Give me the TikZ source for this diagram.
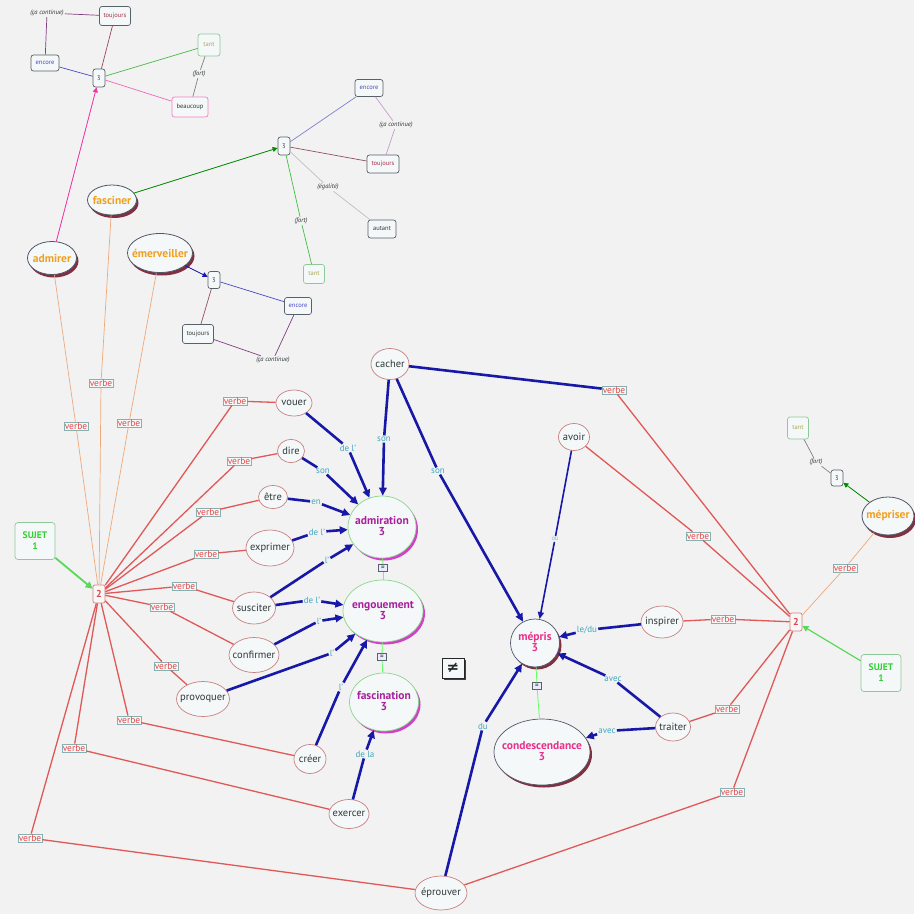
\documentclass[tikz,border=0pt]{standalone}
\usepackage{fontspec}
\setmainfont{PT Sans}
\newfontfamily\djv{DejaVu Sans}
\usetikzlibrary{shapes.geometric,arrows.meta,shadows}
\definecolor{bg}{HTML}{F2F2F2}
\definecolor{nf}{HTML}{F5F8F9}
\definecolor{vbd}{HTML}{C98080}
\definecolor{txc}{HTML}{303838}
\definecolor{cgr}{HTML}{88D888}
\definecolor{cmag}{HTML}{A8209C}
\definecolor{cshad}{HTML}{D040C8}
\definecolor{cpink}{HTML}{E8308C}
\definecolor{cdark}{HTML}{803040}
\definecolor{ovd}{HTML}{505868}
\definecolor{corange}{HTML}{F0A020}
\definecolor{tbd}{HTML}{586068}
\definecolor{vlb}{HTML}{88B0B0}
\definecolor{vred}{HTML}{E04848}
\definecolor{redl}{HTML}{E05858}
\definecolor{orl}{HTML}{F0A878}
\definecolor{navy}{HTML}{1818A8}
\definecolor{bltx}{HTML}{40A8C0}
\definecolor{sgreen}{HTML}{30D030}
\definecolor{enc}{HTML}{4848C0}
\definecolor{tou}{HTML}{A03048}
\definecolor{tan}{HTML}{A8A858}
\definecolor{tanb}{HTML}{90C898}
\newcommand\zb[1]{\makebox[0pt]{#1}}
\newcommand\twol[2]{\makebox[0pt]{\begin{tabular}{@{}c@{}}#1\\[-2pt]#2\end{tabular}}}
\tikzset{
  sz/.style 2 args={minimum width=#1pt, minimum height=#2pt},
  vb/.style={ellipse, draw=vbd, fill=nf, line width=0.7pt, text=txc, font=\fontsize{10.5}{12}\selectfont, inner sep=0pt},
  cp/.style={ellipse, draw=cgr, fill=nf, line width=0.7pt, text=cmag, font=\bfseries\fontsize{11.5}{13}\selectfont, inner sep=0pt, drop shadow={shadow xshift=2pt, shadow yshift=-2.5pt, fill=cshad, opacity=1}},
  mp/.style={ellipse, draw=ovd, fill=nf, line width=0.7pt, text=cpink, font=\bfseries\fontsize{11.5}{13}\selectfont, inner sep=0pt, drop shadow={shadow xshift=2pt, shadow yshift=-2.5pt, fill=cdark, opacity=1}},
  ov/.style={ellipse, draw=ovd, fill=nf, line width=0.8pt, text=corange, font=\bfseries\fontsize{11.5}{13}\selectfont, inner sep=0pt, drop shadow={shadow xshift=2pt, shadow yshift=-3pt, fill=cdark, opacity=1}},
  tb/.style={rectangle, rounded corners=2.5pt, draw=tbd, fill=nf, line width=0.7pt, text=txc, font=\fontsize{6.5}{8}\selectfont, inner sep=0pt},
  itx/.style={font=\itshape\fontsize{6.5}{8}\selectfont, text=txc, inner sep=1pt},
  vl/.style={rectangle, draw=vlb, fill=nf, line width=0.5pt, text=vred, font=\fontsize{9.5}{11}\selectfont, inner sep=0.8pt},
  bl/.style={text=bltx, font=\fontsize{9}{10}\selectfont, inner sep=1pt},
  twobox/.style={rectangle, rounded corners=2pt, draw=redl!80, fill=nf, line width=0.7pt, text=vred, font=\bfseries\fontsize{10}{12}\selectfont, inner sep=0pt, sz={12}{18}},
  sujet/.style={rectangle, rounded corners=3pt, draw=tanb, fill=nf, line width=0.7pt, text=sgreen, font=\bfseries\fontsize{9.5}{11}\selectfont, align=center, inner sep=0pt, sz={40}{37}},
  eqbox/.style={rectangle, draw=tbd, fill=blue!8, line width=0.5pt, font=\fontsize{7}{7}\selectfont, inner sep=0pt, sz={9}{7}},
  rl/.style={draw=redl, line width=1.3pt},
  ol/.style={draw=orl, line width=0.7pt},
  nv/.style={draw=navy, line width=2.6pt},
  na/.style={draw=navy, line width=2.6pt, -{Triangle[length=8pt,width=7.5pt]}},
  gl/.style={draw=green!60, line width=0.8pt},
  sa/.style={line width=0.8pt, -{Triangle[length=5pt,width=5pt]}},
  cl/.style={line width=0.7pt}
}
\begin{document}
\begin{tikzpicture}[x=1pt,y=-1pt]
\fill[bg] (0,0) rectangle (914,914);
\useasboundingbox (0,0) rectangle (914,914);

% ---------- verb ellipses ----------
\node[vb, sz={36}{26}] (vouer) at (294,403) {\zb{vouer}};
\node[vb, sz={27}{23}] (dire) at (291,451) {\zb{dire}};
\node[vb, sz={29}{23}] (etre) at (273,497) {\zb{être}};
\node[vb, sz={48}{36}] (exprimer) at (270,548) {\zb{exprimer}};
\node[vb, sz={43}{32}] (susciter) at (254,608) {\zb{susciter}};
\node[vb, sz={50}{35}] (confirmer) at (254,655) {\zb{confirmer}};
\node[vb, sz={53}{35}] (provoquer) at (203,699) {\zb{provoquer}};
\node[vb, sz={32}{29}] (creer) at (310,759) {\zb{créer}};
\node[vb, sz={40}{29}] (exercer) at (349,814) {\zb{exercer}};
\node[vb, sz={52}{34}] (eprouver) at (441,893) {\zb{éprouver}};
\node[vb, sz={38}{31}] (cacher) at (390,364) {\zb{cacher}};
\node[vb, sz={31}{27}] (avoir) at (574,437) {\zb{avoir}};
\node[vb, sz={42}{32}] (inspirer) at (662,622) {\zb{inspirer}};
\node[vb, sz={35}{28}] (traiter) at (673,727) {\zb{traiter}};

% ---------- concepts ----------
\node[cp, sz={68}{62}] (admiration) at (382,527) {\twol{admiration}{3}};
\node[cp, sz={80}{62}] (engouement) at (383,611) {\twol{engouement}{3}};
\node[cp, sz={69}{58}] (fascination) at (384,702) {\twol{fascination}{3}};
\node[mp, sz={49}{48}] (mepris) at (535,643) {\twol{mépris}{3}};
\node[mp, sz={96}{66}] (condes) at (542,752) {\twol{condescendance}{3}};

% ---------- orange verbs ----------
\node[ov, sz={49}{30}] (fasciner) at (112,200) {\zb{fasciner}};
\node[ov, sz={49}{33}] (admirer) at (52,258) {\zb{admirer}};
\node[ov, sz={65}{39}] (emerveiller) at (160,253) {\zb{émerveiller}};
\node[ov, sz={52}{38}] (mepriser) at (888,516) {\zb{mépriser}};

% ---------- hubs ----------
\node[twobox] (twoL) at (99,594) {2};
\node[twobox] (twoR) at (796,622) {2};
\node[sujet] (sujL) at (35,541) {SUJET\\1};
\node[sujet] (sujR) at (881,673) {SUJET\\1};

% ---------- top-left cluster ----------
\node[itx] (tlCa) at (47,13) {(ça continue)};
\node[tb, sz={31}{19}, text=tou] (tlTou) at (115,16) {toujours};
\node[tb, sz={28}{16}, text=enc] (tlEnc) at (45,63) {encore};
\node[tb, sz={12}{18}] (tl3) at (99,78) {3};
\node[tb, sz={22}{22}, draw=tanb, text=tan] (tlTant) at (209,45) {tant};
\node[itx] (tlFort) at (199,74) {(fort)};
\node[tb, sz={36}{20}, draw=magenta!50] (tlBeau) at (190,107) {beaucoup};

% ---------- top-middle cluster ----------
\node[tb, sz={28}{17}, text=enc] (tmEnc) at (369,88) {encore};
\node[itx] (tmCa) at (396,125) {(ça continue)};
\node[tb, sz={32}{18}, text=tou] (tmTou) at (383,164) {toujours};
\node[tb, sz={12}{18}] (tm3) at (284,146) {3};
\node[itx] (tmEg) at (328,187) {(égalité)};
\node[tb, sz={28}{18}] (tmAut) at (382,229) {autant};
\node[itx] (tmFort) at (301,221) {(fort)};
\node[tb, sz={21}{19}, draw=tanb, text=tan] (tmTant) at (314,274) {tant};

% ---------- emerveiller cluster ----------
\node[tb, sz={12}{17}] (em3) at (214,280) {3};
\node[tb, sz={27}{17}, text=enc] (emEnc) at (298,306) {encore};
\node[tb, sz={31}{19}] (emTou) at (198,334) {toujours};
\node[itx] (emCa) at (273,360) {(ça continue)};

% ---------- right-top cluster ----------
\node[tb, sz={21}{22}, draw=tanb, text=tan] (rTant) at (798,428) {tant};
\node[itx] (rFort) at (816,462) {(fort)};
\node[tb, sz={12}{16}] (r3) at (837,478) {3};

% ---------- verbe labels ----------
\node[vl] (lvA) at (76,426) {verbe};
\node[vl] (lvF) at (101,383) {verbe};
\node[vl] (lvE) at (129,423) {verbe};
\node[vl] (lv1) at (235,401) {verbe};
\node[vl] (lv2) at (239,461) {verbe};
\node[vl] (lv3) at (208,512) {verbe};
\node[vl] (lv4) at (206,554) {verbe};
\node[vl] (lv5) at (184,586) {verbe};
\node[vl] (lv6) at (162,607) {verbe};
\node[vl] (lv7) at (166,666) {verbe};
\node[vl] (lv8) at (129,720) {verbe};
\node[vl] (lv9) at (74,748) {verbe};
\node[vl] (lv10) at (30,838) {verbe};
\node[vl] (rv1) at (614,390) {verbe};
\node[vl] (rv2) at (698,536) {verbe};
\node[vl] (rv3) at (723,619) {verbe};
\node[vl] (rv4) at (727,709) {verbe};
\node[vl] (rv5) at (732,792) {verbe};
\node[vl] (rv6) at (845,568) {verbe};

% ---------- blue labels ----------
\node[bl] (b1) at (348,448) {de l'};
\node[bl] (b2) at (323,471) {son};
\node[bl] (b3) at (316,502) {en};
\node[bl] (b4) at (317,532) {de l'};
\node[bl] (b5) at (327,560) {l'};
\node[bl] (b6) at (384,439) {son};
\node[bl] (b7) at (312,600) {de l'};
\node[bl] (b8) at (319,621) {l'};
\node[bl] (b9) at (332,653) {l'};
\node[bl] (b10) at (341,687) {l'};
\node[bl] (b11) at (365,754) {de la};
\node[bl] (b12) at (438,471) {son};
\node[bl, font=\fontsize{6.5}{7}\selectfont, text=bltx!70] (b13) at (555,539) {ou};
\node[bl] (b14) at (587,630) {le/du};
\node[bl] (b15) at (613,679) {avec};
\node[bl] (b16) at (607,731) {avec};
\node[bl] (b17) at (483,726) {du};

% ---------- equal boxes ----------
\node[eqbox] (eq1) at (383,568) {=};
\node[eqbox] (eq2) at (382,657) {=};
\node[eqbox] (eq3) at (537,686) {=};
\node[rectangle, draw=black!85, fill=nf, line width=0.9pt, inner sep=0pt, sz={22}{20}, font=\djv\bfseries\fontsize{15}{15}\selectfont, text=black!85, drop shadow={shadow xshift=2pt, shadow yshift=-2pt, fill=black!75, opacity=1}] (neq) at (453,668) {≠};

% ================= edges =================
% orange
\draw[ol] (twoL) -- (lvA); \draw[ol] (lvA) -- (admirer);
\draw[ol] (twoL) -- (lvF); \draw[ol] (lvF) -- (fasciner);
\draw[ol] (twoL) -- (lvE); \draw[ol] (lvE) -- (emerveiller);
\draw[ol] (twoR) -- (rv6); \draw[ol] (rv6) -- (mepriser);
% red left
\foreach \l/\v in {lv1/vouer, lv2/dire, lv3/etre, lv4/exprimer, lv5/susciter, lv6/confirmer, lv7/provoquer, lv8/creer, lv9/exercer, lv10/eprouver}{
  \draw[rl] (twoL) -- (\l);
  \draw[rl] (\l) -- (\v);
}
% red right
\foreach \l/\v in {rv2/avoir, rv3/inspirer, rv4/traiter, rv5/eprouver}{
  \draw[rl] (twoR) -- (\l);
  \draw[rl] (\l) -- (\v);
}
\draw[rl] (twoR) -- (rv1);
\draw[nv] (cacher) -- (rv1);
% sujet arrows
\draw[draw=sgreen!80, line width=1.8pt, -{Triangle[length=7pt,width=7pt]}] (sujL) -- (twoL);
\draw[draw=sgreen!80, line width=1.2pt, -{Triangle[length=6pt,width=6pt]}] (sujR) -- (twoR);
% blue arrows
\foreach \s/\b/\t in {vouer/b1/admiration, dire/b2/admiration, etre/b3/admiration, exprimer/b4/admiration, susciter/b5/admiration, cacher/b6/admiration, susciter/b7/engouement, confirmer/b8/engouement, provoquer/b9/engouement, creer/b10/engouement, exercer/b11/fascination, cacher/b12/mepris, inspirer/b14/mepris, traiter/b15/mepris, traiter/b16/condes, eprouver/b17/mepris}{
  \draw[nv] (\s) -- (\b);
  \draw[na] (\b) -- (\t);
}
\draw[navy, line width=1.6pt] (avoir) -- (b13);
\draw[navy, line width=1.6pt, -{Triangle[length=7pt,width=6pt]}] (b13) -- (mepris);
% green equal links
\draw[gl] (admiration) -- (eq1); \draw[gl] (eq1) -- (engouement);
\draw[gl] (engouement) -- (eq2); \draw[gl] (eq2) -- (fascination);
\draw[gl] (mepris) -- (eq3); \draw[gl] (eq3) -- (condes);

% top-left cluster links
\draw[cl, draw=violet!50!gray] (tlCa) -- (tlTou);
\draw[cl, draw=violet!50!gray] (tlCa) -- (tlEnc);
\draw[cl, draw=enc] (tlEnc) -- (tl3);
\draw[cl, draw=tou!70!gray] (tlTou) -- (tl3);
\draw[cl, draw=green!45!gray] (tl3) -- (tlTant);
\draw[cl, draw=gray] (tlTant) -- (tlFort);
\draw[cl, draw=gray] (tlFort) -- (tlBeau);
\draw[cl, draw=magenta!60] (tl3) -- (tlBeau);
\draw[sa, draw=magenta!80, fill=magenta!80] (admirer) -- (tl3);

% top-middle cluster links
\draw[cl, draw=enc!70] (tm3) -- (tmEnc);
\draw[cl, draw=violet!40] (tmEnc) -- (tmCa);
\draw[cl, draw=violet!40] (tmCa) -- (tmTou);
\draw[cl, draw=tou!60!gray] (tm3) -- (tmTou);
\draw[cl, draw=gray!50] (tm3) -- (tmEg);
\draw[cl, draw=gray!50] (tmEg) -- (tmAut);
\draw[cl, draw=green!50!gray] (tm3) -- (tmFort);
\draw[cl, draw=green!50!gray] (tmFort) -- (tmTant);
\draw[sa, draw=green!55!black, fill=green!55!black] (fasciner) -- (tm3);

% emerveiller cluster links
\draw[sa, draw=navy, fill=navy] (emerveiller) -- (em3);
\draw[cl, draw=enc] (em3) -- (emEnc);
\draw[cl, draw=tou!60!gray] (em3) -- (emTou);
\draw[cl, draw=violet!50!gray] (emTou) -- (emCa);
\draw[cl, draw=violet!50!gray] (emCa) -- (emEnc);

% right-top cluster links
\draw[sa, draw=green!55!black, fill=green!55!black] (mepriser) -- (r3);
\draw[cl, draw=gray] (r3) -- (rFort);
\draw[cl, draw=gray] (rFort) -- (rTant);
\end{tikzpicture}
\end{document}
